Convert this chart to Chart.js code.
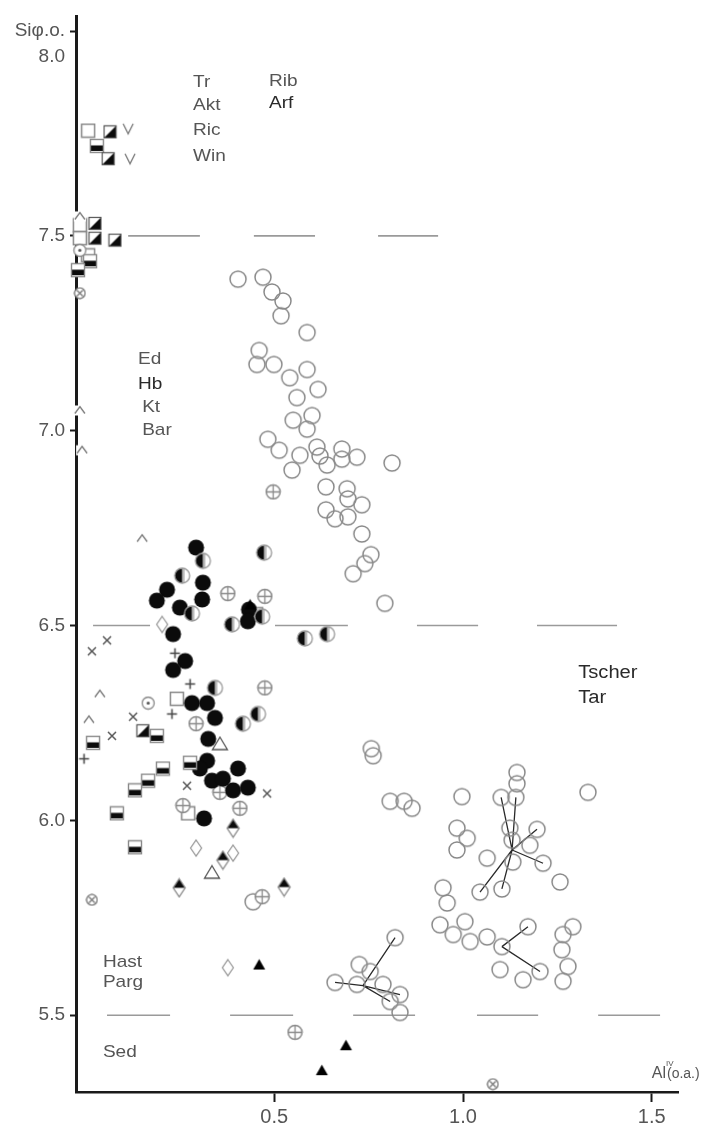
<!DOCTYPE html>
<html><head><meta charset="utf-8">
<script src="https://cdn.jsdelivr.net/npm/chart.js@4.4.0/dist/chart.umd.min.js"></script>
<style>html,body{margin:0;padding:0;background:#fff}#wrap{width:712px;height:1125px;position:relative}</style>
</head><body><div id="wrap"><canvas id="c"></canvas></div>
<script>
// ---------- axis ticks ----------
const xTickValues = [0.5, 1.0, 1.5];
const xTickLabels = ['0.5', '1.0', '1.5'];
const yTickValues = [5.5, 6.0, 6.5, 7.0, 7.5, 7.9586, 8.0256];
const yTickLabels = ['5.5', '6.0', '6.5', '7.0', '7.5', '8.0', 'Siφ.o.'];

// ---------- dashed boundary lines: level and [x1,x2] segments ----------
const boundary75 = [[0.113,0.303],[0.446,0.608],[0.775,0.934]];
const boundary65 = [[0.020,0.171],[0.502,0.695],[0.878,1.040],[1.196,1.408]];
const boundary55 = [[0.057,0.224],[0.383,0.550],[0.709,0.873],[1.037,1.199],[1.358,1.522]];

// ---------- tie lines: [x1,y1,x2,y2] ----------
const tieLines = [
  [1.130,5.924,1.101,6.059],[1.130,5.924,1.140,6.059],[1.130,5.924,1.045,5.816],
  [1.130,5.924,1.103,5.824],[1.130,5.924,1.196,5.977],[1.130,5.924,1.212,5.890],
  [1.103,5.676,1.172,5.727],[1.103,5.676,1.204,5.612],
  [0.735,5.576,0.820,5.699],[0.735,5.576,0.661,5.584],[0.735,5.576,0.833,5.553],[0.735,5.576,0.807,5.535]
];

// ---------- point series [AlIV, Si] ----------
const openCircles = [
  [0.404,7.389],[0.470,7.394],[0.494,7.356],[0.523,7.333],[0.518,7.295],[0.587,7.252],
  [0.460,7.206],[0.454,7.170],[0.499,7.170],[0.541,7.136],[0.587,7.157],[0.616,7.106],
  [0.560,7.085],[0.550,7.027],[0.600,7.039],[0.587,7.004],[0.483,6.978],[0.513,6.950],
  [0.568,6.937],[0.547,6.899],[0.613,6.958],[0.621,6.935],[0.640,6.912],[0.679,6.953],
  [0.679,6.927],[0.719,6.932],[0.812,6.917],[0.637,6.856],[0.693,6.851],[0.695,6.825],
  [0.732,6.810],[0.637,6.797],[0.661,6.774],[0.695,6.779],[0.732,6.735],[0.756,6.682],
  [0.740,6.659],[0.709,6.633],[0.793,6.557],
  [0.757,6.184],[0.762,6.166],[0.807,6.049],[0.844,6.049],[0.865,6.031],
  [0.997,6.061],[1.143,6.123],[1.143,6.094],[1.101,6.059],[1.140,6.059],[1.331,6.072],
  [0.984,5.980],[1.011,5.954],[0.984,5.924],[1.124,5.980],[1.130,5.949],[1.196,5.977],
  [1.177,5.936],[1.212,5.890],[1.064,5.903],[1.132,5.893],[1.045,5.816],[1.103,5.824],
  [1.257,5.842],[0.947,5.827],[0.958,5.788],[0.939,5.732],[1.005,5.740],[0.974,5.707],
  [1.019,5.689],[1.064,5.701],[1.103,5.676],[1.172,5.727],[1.098,5.617],[1.204,5.612],
  [1.159,5.591],[1.291,5.727],[1.265,5.707],[1.262,5.668],[1.278,5.625],[1.265,5.587],
  [0.820,5.699],[0.725,5.630],[0.754,5.612],[0.661,5.584],[0.719,5.579],[0.788,5.579],
  [0.833,5.553],[0.807,5.535],[0.833,5.507],
  [0.444,5.791]
];
const filledCircles = [
  [0.293,6.700],[0.311,6.610],[0.216,6.592],[0.189,6.564],[0.309,6.567],[0.250,6.546],
  [0.433,6.541],[0.430,6.511],[0.232,6.478],[0.264,6.409],[0.232,6.386],[0.282,6.301],
  [0.322,6.301],[0.343,6.263],[0.325,6.209],[0.322,6.153],[0.303,6.133],[0.404,6.133],
  [0.335,6.102],[0.364,6.107],[0.391,6.077],[0.430,6.084],[0.314,6.005]
];
const halfCircles = [
  [0.311,6.666],[0.256,6.628],[0.473,6.687],[0.282,6.531],[0.468,6.523],[0.388,6.503],
  [0.581,6.467],[0.640,6.478],[0.343,6.340],[0.417,6.248],[0.457,6.273]
];
const plusCircles = [
  [0.377,6.582],[0.475,6.575],[0.497,6.843],[0.475,6.340],[0.293,6.248],[0.356,6.072],
  [0.258,6.038],[0.409,6.031],[0.468,5.804],[0.555,5.456]
];
const crossCircles = [[-0.015,7.353],[0.017,5.796],[1.079,5.323]];
const dotCircles = [[0.166,6.301],[-0.015,7.463]];
const openSquares = [[0.007,7.770],[-0.015,7.527],[-0.015,7.494],[0.007,7.450],[0.242,6.312],[0.452,6.529],[0.272,6.018]];
const halfSquares = [
  [0.030,7.731],[0.012,7.435],[-0.020,7.412],[0.020,6.199],[0.189,6.217],[0.277,6.148],
  [0.205,6.133],[0.166,6.102],[0.131,6.077],[0.083,6.018],[0.131,5.931]
];
const diagSquares = [[0.065,7.767],[0.060,7.698],[0.025,7.532],[0.025,7.494],[0.078,7.489],[0.152,6.230]];
const vMarks = [[0.113,7.775],[0.118,7.698]];
const openDiamonds = [[0.203,6.503],[0.293,5.929],[0.391,5.916],[0.377,5.622]];
const halfDiamonds = [[0.391,5.980],[0.364,5.898],[0.248,5.827],[0.526,5.829]];
const openTriangles = [[0.356,6.197],[0.335,5.867]];
const filledTriangles = [[0.436,6.554],[0.460,5.630],[0.690,5.423],[0.626,5.359]];
const carets = [[-0.015,7.550],[-0.015,7.052],[-0.009,6.950],[0.150,6.723],[0.038,6.324],[0.009,6.258]];
const crosses = [[0.017,6.434],[0.057,6.462],[0.126,6.266],[0.070,6.217],[0.269,6.089],[0.481,6.069]];
const pluses = [[0.237,6.429],[0.277,6.350],[0.229,6.273],[-0.004,6.158]];

// ---------- text labels placed in data units ----------
const regionLabels = [
  ['Tr',0.285,7.895],['Akt',0.285,7.834],['Ric',0.285,7.770],['Win',0.285,7.703],
  ['Rib',0.486,7.897],['Arf',0.486,7.839],
  ['Ed',0.139,7.182],['Hb',0.139,7.118],['Kt',0.150,7.060],['Bar',0.150,7.001],
  ['Tscher',1.305,6.378],['Tar',1.305,6.314],
  ['Hast',0.046,5.637],['Parg',0.046,5.584],['Sed',0.046,5.405]
];
const darkLabels = ['Arf','Hb','Tscher','Tar'];

// ---------- marker images ----------
function mk(w,h,draw){const c=document.createElement('canvas');c.width=w;c.height=h;const g=c.getContext('2d');g.translate(w/2,h/2);draw(g);return c;}
const TAU=Math.PI*2;
const M = {
  oc: mk(20,20,g=>{g.beginPath();g.arc(0,0,8,0,TAU);g.strokeStyle='#8a8a8a';g.lineWidth=1.5;g.stroke();}),
  fc: mk(19,19,g=>{g.beginPath();g.arc(0,0,8,0,TAU);g.fillStyle='#0b0b0b';g.fill();}),
  hc: mk(19,19,g=>{g.beginPath();g.arc(0,0,7.5,0,TAU);g.fillStyle='#fff';g.fill();
       g.beginPath();g.arc(0,0,7.5,Math.PI/2,Math.PI*1.5);g.closePath();g.fillStyle='#0b0b0b';g.fill();
       g.beginPath();g.arc(0,0,7.5,0,TAU);g.strokeStyle='#999';g.lineWidth=1.3;g.stroke();
       g.beginPath();g.moveTo(1.5,-7);g.lineTo(1.5,7);g.stroke();}),
  cp: mk(17,17,g=>{g.beginPath();g.arc(0,0,7,0,TAU);g.fillStyle='#fff';g.fill();g.strokeStyle='#8a8a8a';g.lineWidth=1.5;g.stroke();
       g.beginPath();g.moveTo(-7,0);g.lineTo(7,0);g.moveTo(0,-7);g.lineTo(0,7);g.lineWidth=1.3;g.stroke();}),
  cx: mk(13,13,g=>{g.beginPath();g.arc(0,0,5.3,0,TAU);g.fillStyle='#fff';g.fill();g.strokeStyle='#777';g.lineWidth=1.3;g.stroke();
       g.beginPath();g.moveTo(-3,-3);g.lineTo(3,3);g.moveTo(3,-3);g.lineTo(-3,3);g.stroke();}),
  cd: mk(15,15,g=>{g.beginPath();g.arc(0,0,6,0,TAU);g.fillStyle='#fff';g.fill();g.strokeStyle='#888';g.lineWidth=1.3;g.stroke();
       g.beginPath();g.arc(0,0,1.6,0,TAU);g.fillStyle='#555';g.fill();}),
  os: mk(16,16,g=>{g.fillStyle='#fff';g.fillRect(-6.5,-6.5,13,13);g.strokeStyle='#888';g.lineWidth=1.5;g.strokeRect(-6.5,-6.5,13,13);}),
  hs: mk(16,16,g=>{g.fillStyle='#fff';g.fillRect(-6.5,-6.5,13,13);g.fillStyle='#0b0b0b';g.fillRect(-6.5,-0.5,13,5.5);
       g.strokeStyle='#8a8a8a';g.lineWidth=1.4;g.strokeRect(-6.5,-6.5,13,13);}),
  ds: mk(15,15,g=>{g.fillStyle='#fff';g.fillRect(-6,-6,12,12);g.beginPath();g.moveTo(6,-6);g.lineTo(6,6);g.lineTo(-6,6);g.closePath();
       g.fillStyle='#0b0b0b';g.fill();g.strokeStyle='#555';g.lineWidth=1.2;g.strokeRect(-6,-6,12,12);}),
  vv: mk(14,14,g=>{g.beginPath();g.moveTo(-5,-5);g.lineTo(0,5);g.lineTo(5,-5);g.strokeStyle='#777';g.lineWidth=1.3;g.stroke();}),
  od: mk(14,20,g=>{g.beginPath();g.moveTo(0,-8);g.lineTo(5.5,0);g.lineTo(0,8);g.lineTo(-5.5,0);g.closePath();
       g.fillStyle='#fff';g.fill();g.strokeStyle='#9a9a9a';g.lineWidth=1.3;g.stroke();}),
  hd: mk(15,21,g=>{g.beginPath();g.moveTo(0,-9);g.lineTo(6,0);g.lineTo(0,9);g.lineTo(-6,0);g.closePath();g.fillStyle='#fff';g.fill();
       g.beginPath();g.moveTo(0,-9);g.lineTo(6,0);g.lineTo(-6,0);g.closePath();g.fillStyle='#0b0b0b';g.fill();
       g.beginPath();g.moveTo(0,-9);g.lineTo(6,0);g.lineTo(0,9);g.lineTo(-6,0);g.closePath();g.strokeStyle='#888';g.lineWidth=1.3;g.stroke();}),
  ot: mk(18,16,g=>{g.beginPath();g.moveTo(0,-6.5);g.lineTo(7.5,6);g.lineTo(-7.5,6);g.closePath();g.fillStyle='#fff';g.fill();
       g.strokeStyle='#555';g.lineWidth=1.3;g.stroke();}),
  ft: mk(15,14,g=>{g.beginPath();g.moveTo(0,-5.5);g.lineTo(6,5);g.lineTo(-6,5);g.closePath();g.fillStyle='#000';g.fill();}),
  ca: mk(14,13,g=>{g.fillStyle='#fff';g.fillRect(-6,-5,12,10);g.beginPath();g.moveTo(-5,3);g.lineTo(0,-4);g.lineTo(5,3);
       g.strokeStyle='#777';g.lineWidth=1.3;g.stroke();}),
  xc: mk(12,12,g=>{g.beginPath();g.moveTo(-4,-4);g.lineTo(4,4);g.moveTo(4,-4);g.lineTo(-4,4);g.strokeStyle='#555';g.lineWidth=1.5;g.stroke();}),
  pl: mk(13,13,g=>{g.beginPath();g.moveTo(-5,0);g.lineTo(5,0);g.moveTo(0,-5);g.lineTo(0,5);g.strokeStyle='#444';g.lineWidth=1.5;g.stroke();})
};

// ---------- datasets ----------
const P = a => a.map(([x,y]) => ({x, y}));
function markers(label, data, style, order){
  return {label, data:P(data), pointStyle:style, pointRadius:8, pointHoverRadius:8, showLine:false, clip:false, order};
}
function boundary(level, segs){
  const d=[]; segs.forEach(([a,b])=>{d.push({x:a,y:level},{x:b,y:level},{x:b,y:null});});
  return {label:'b'+level, data:d, showLine:true, pointRadius:0, borderColor:'#9a9a9a', borderWidth:1.6, spanGaps:false, clip:false, order:20};
}
const tieData=[]; tieLines.forEach(([a,b,c,d])=>{tieData.push({x:a,y:b},{x:c,y:d},{x:c,y:null});});

const datasets = [
  boundary(7.5, boundary75), boundary(6.5, boundary65), boundary(5.5, boundary55),
  {label:'tie', data:tieData, showLine:true, pointRadius:0, borderColor:'#2a2a2a', borderWidth:1.3, spanGaps:false, clip:false, order:19},
  markers('oc', openCircles, M.oc, 18),
  markers('od', openDiamonds, M.od, 12),
  markers('os', openSquares, M.os, 11),
  markers('cp', plusCircles, M.cp, 10),
  markers('fc', filledCircles, M.fc, 9),
  markers('hc', halfCircles, M.hc, 8),
  markers('hs', halfSquares, M.hs, 7),
  markers('ds', diagSquares, M.ds, 6),
  markers('hd', halfDiamonds, M.hd, 5),
  markers('ot', openTriangles, M.ot, 4),
  markers('ft', filledTriangles, M.ft, 3),
  markers('cx', crossCircles, M.cx, 3),
  markers('cd', dotCircles, M.cd, 3),
  markers('vv', vMarks, M.vv, 2),
  markers('ca', carets, M.ca, 2),
  markers('xc', crosses, M.xc, 1),
  markers('pl', pluses, M.pl, 1)
];

const textPlugin = {
  id:'regionText',
  afterDatasetsDraw(chart){
    const {ctx, scales:{x, y}} = chart;
    ctx.save();
    ctx.textBaseline='middle'; ctx.textAlign='left';
    regionLabels.forEach(([t,vx,vy])=>{
      const px=x.getPixelForValue(vx), py=y.getPixelForValue(vy);
      const dark = darkLabels.includes(t);
      ctx.save(); ctx.translate(px,py); ctx.scale(1.12,1);
      ctx.font = (t==='Tscher'||t==='Tar') ? '18px "Liberation Sans", Arial, sans-serif' : '17px "Liberation Sans", Arial, sans-serif';
      ctx.fillStyle = dark ? '#2a2a2a' : '#555';
      ctx.fillText(t,0,0);
      ctx.restore();
    });
    // x-axis quantity label
    const ax = x.getPixelForValue(1.500), ay = y.getPixelForValue(5.354) + 6;
    ctx.textBaseline='alphabetic';
    ctx.fillStyle='#555';
    ctx.font='16px "Liberation Sans", Arial, sans-serif';
    ctx.fillText('Al', ax, ay);
    const w1 = ctx.measureText('Al').width;
    ctx.font='8px "Liberation Sans", Arial, sans-serif';
    ctx.fillText('IV', ax+w1, ay-12);
    ctx.font='14px "Liberation Sans", Arial, sans-serif';
    ctx.fillText('(o.a.)', ax+w1+1, ay);
    ctx.restore();
  }
};

new Chart(document.getElementById('c'), {
  type:'scatter',
  data:{datasets},
  plugins:[textPlugin],
  options:{
    responsive:true, maintainAspectRatio:false, animation:false,
    layout:{padding:{top:12, right:34, left:0, bottom:0}},
    plugins:{legend:{display:false}, tooltip:{enabled:false}},
    events:[],
    scales:{
      x:{
        type:'linear', min:-0.0252, max:1.5695,
        afterFit(s){ s.height = 33; },
        afterBuildTicks(s){ s.ticks = xTickValues.map(v=>({value:v})); },
        border:{display:true, color:'#1a1a1a', width:2.5},
        grid:{display:true, drawOnChartArea:false, drawTicks:true, tickLength:10, tickWidth:2, tickColor:'#1a1a1a'},
        ticks:{autoSkip:false, maxRotation:0, padding:3, color:'#555',
          font:{family:'"Liberation Sans", Arial, sans-serif', size:20},
          callback:(v)=>{const i=xTickValues.findIndex(t=>Math.abs(t-v)<1e-6);return i>=0?xTickLabels[i]:'';}}
      },
      y:{
        type:'linear', min:5.3029, max:8.0633,
        afterFit(s){ s.width = 76; },
        afterBuildTicks(s){ s.ticks = yTickValues.map(v=>({value:v})); },
        border:{display:true, color:'#1a1a1a', width:3},
        grid:{display:true, drawOnChartArea:false, drawTicks:true, tickLength:6, tickWidth:2,
          tickColor:(c)=> (c.tick && Math.abs(c.tick.value-7.9586)<1e-3) ? 'rgba(0,0,0,0)' : '#1a1a1a'},
        ticks:{autoSkip:false, padding:5, color:'#555',
          font:(c)=> ({family:'"Liberation Sans", Arial, sans-serif', size: (c.tick && c.tick.value>8) ? 19 : 19}),
          callback:(v)=>{const i=yTickValues.findIndex(t=>Math.abs(t-v)<1e-6);return i>=0?yTickLabels[i]:'';}}
      }
    }
  }
});
</script>
</body></html>
